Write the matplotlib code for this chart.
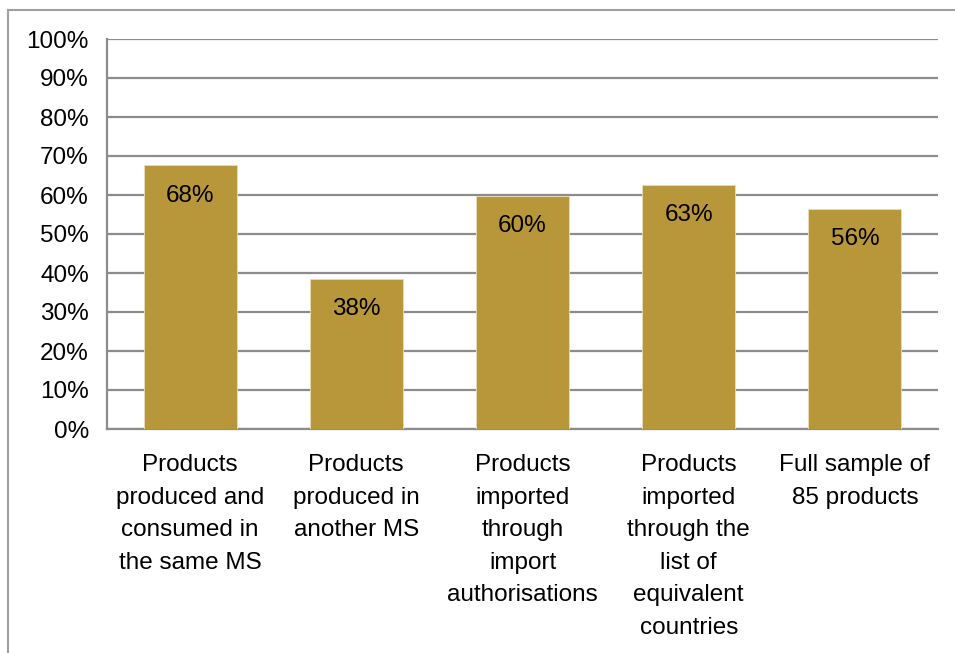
import matplotlib.pyplot as plt
from matplotlib.lines import Line2D
from matplotlib.ticker import PercentFormatter

categories = [
    "Products\nproduced and\nconsumed in\nthe same MS",
    "Products\nproduced in\nanother MS",
    "Products\nimported\nthrough\nimport\nauthorisations",
    "Products\nimported\nthrough the\nlist of\nequivalent\ncountries",
    "Full sample of\n85 products",
]
shares = [0.676, 0.385, 0.598, 0.626, 0.564]

plt.rcParams["font.family"] = ["Liberation Sans", "DejaVu Sans"]

fig = plt.figure(figsize=(9.55, 6.53), dpi=100)
ax = fig.add_axes([107 / 955, 1 - 429 / 653, 831 / 955, 390 / 653])

x = range(len(categories))
bars = ax.bar(x, shares, width=0.56, color="#B8963A", edgecolor="#E9DDB8",
              linewidth=0.6, zorder=3)
for bar, v in zip(bars, shares):
    ax.annotate(f"{v:.0%}", (bar.get_x() + bar.get_width() / 2, v),
                xytext=(0, -14), textcoords="offset points",
                ha="center", va="top", fontsize=17.5, zorder=4)

ax.set_xlim(-0.5, len(categories) - 0.5)
ax.set_ylim(0, 1)
ax.set_yticks([i / 10 for i in range(11)])
ax.yaxis.set_major_formatter(PercentFormatter(1.0, decimals=0))
ax.grid(axis="y", color="#8C8C8C", linewidth=1.6, zorder=0)
ax.set_xticks(list(x))
ax.set_xticklabels(categories, fontsize=17.5, linespacing=1.62, va="top")
ax.tick_params(axis="x", length=0, pad=18)
ax.tick_params(axis="y", length=0, pad=13, labelsize=17.5)
for side in ["top", "right"]:
    ax.spines[side].set_visible(False)
for side in ["left", "bottom"]:
    ax.spines[side].set_color("#8C8C8C")
    ax.spines[side].set_linewidth(1.6)

# outer chart frame (partially visible)
fig.add_artist(Line2D([8 / 955, 8 / 955], [0, 1 - 10 / 653], color="#A0A0A0",
                      linewidth=1.5, transform=fig.transFigure))
fig.add_artist(Line2D([8 / 955, 1], [1 - 10 / 653, 1 - 10 / 653], color="#A0A0A0",
                      linewidth=1.5, transform=fig.transFigure))

fig.savefig("out.png", dpi=100)
